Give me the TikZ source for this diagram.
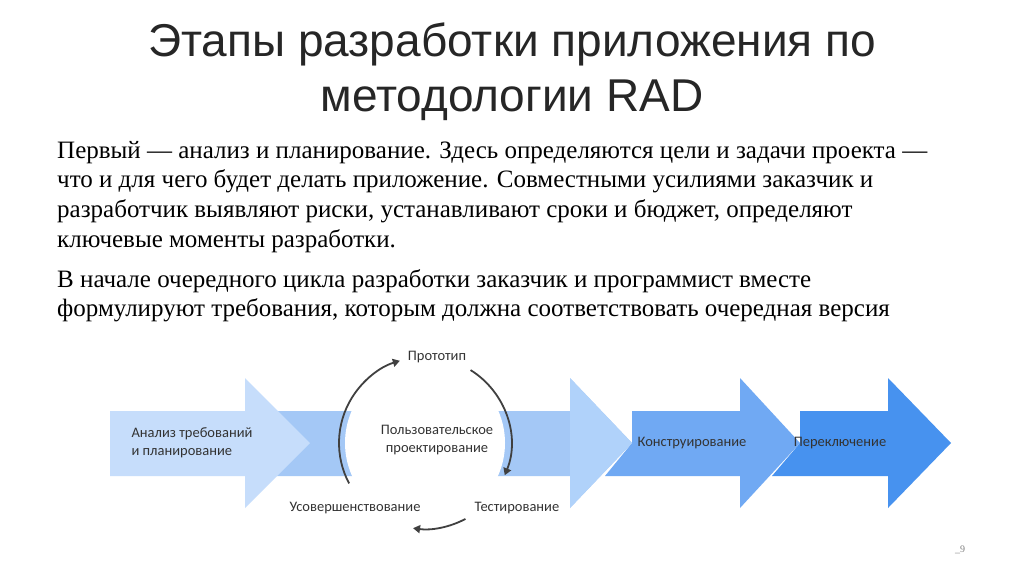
\documentclass[tikz,border=0pt]{standalone}
\usepackage{fontspec}
\setmainfont{Liberation Serif}
\newfontfamily\ttl{Liberation Sans}
\newfontfamily\dg{Carlito}
\usetikzlibrary{arrows.meta}
\begin{document}
\begin{tikzpicture}[x=1pt,y=-1pt,
 dlab/.style={font=\dg\fontsize{14.5}{18}\selectfont,text=black!80,align=left},
 cyc/.style={draw=black!75,line width=1.8pt,-{Triangle[length=7pt,width=8pt]}},
 btxt/.style={anchor=west,font=\fontsize{25}{29.6}\selectfont,align=left,inner sep=0}]
\useasboundingbox (0,0) rectangle (1024,574);
\fill[white] (0,0) rectangle (1024,574);
\node[font=\ttl\fontsize{46}{55}\selectfont,text=black!85,align=center] (title) at (512,72) {Этапы разработки приложения по\\методологии RAD};
\node[btxt,anchor=north west] (p1) at (57,141) {Первый — анализ и планирование. Здесь определяются цели и задачи проекта —\\что и для чего будет делать приложение. Совместными усилиями заказчик и\\разработчик выявляют риски, устанавливают сроки и бюджет, определяют\\ключевые моменты разработки.};
\node[btxt,anchor=north west] (p2) at (57,269) {В начале очередного цикла разработки заказчик и программист вместе\\формулируют требования, которым должна соответствовать очередная версия};
% arrows
\fill[color={rgb,255:red,164;green,200;blue,246}] (245,411) -- (570,411) -- (570,378) -- (632,443) -- (570,508) -- (570,476) -- (245,476) -- cycle;
\fill[color={rgb,255:red,198;green,221;blue,251}] (110,411) -- (245,411) -- (245,378) -- (310,443) -- (245,508) -- (245,476) -- (110,476) -- cycle;
\fill[color={rgb,255:red,112;green,169;blue,243}] (632,411) -- (740,411) -- (740,378) -- (800,443) -- (740,508) -- (740,476) -- (605,476) -- (632,443) -- cycle;
\fill[color={rgb,255:red,71;green,146;blue,239}] (800,411) -- (888,411) -- (888,378) -- (951,443) -- (888,508) -- (888,476) -- (772,476) -- (800,443) -- cycle;
\fill[color={rgb,255:red,176;green,210;blue,250}] (570,378) -- (632,443) -- (570,508) -- cycle;
% circle region white
\fill[white] (425,443) circle (80);
\node[dlab] (a1) at (192,443) {Анализ требований\\и планирование};
\node[dlab] (a3) at (692,443) {Конструирование};
\node[dlab] (a4) at (840,443) {Переключение};
\node[dlab,align=center] (c) at (437,440) {Пользовательское\\проектирование};
\node[dlab] (proto) at (437,357) {Прототип};
\node[dlab] (test) at (517,508) {Тестирование};
\node[dlab] (usov) at (355,508) {Усовершенствование};
\draw[cyc] ([shift={(425,443)}]-208:86) arc[start angle=-208,end angle=-107,radius=86];
\draw[cyc] ([shift={(425,443)}]-58:86) arc[start angle=-58,end angle=22,radius=86];
\draw[cyc] ([shift={(425,443)}]62:86) arc[start angle=62,end angle=98,radius=86];
\node[font=\fontsize{10}{12}\selectfont,text=black!50] (pg) at (960,550) {\_9};
\end{tikzpicture}
\end{document}
